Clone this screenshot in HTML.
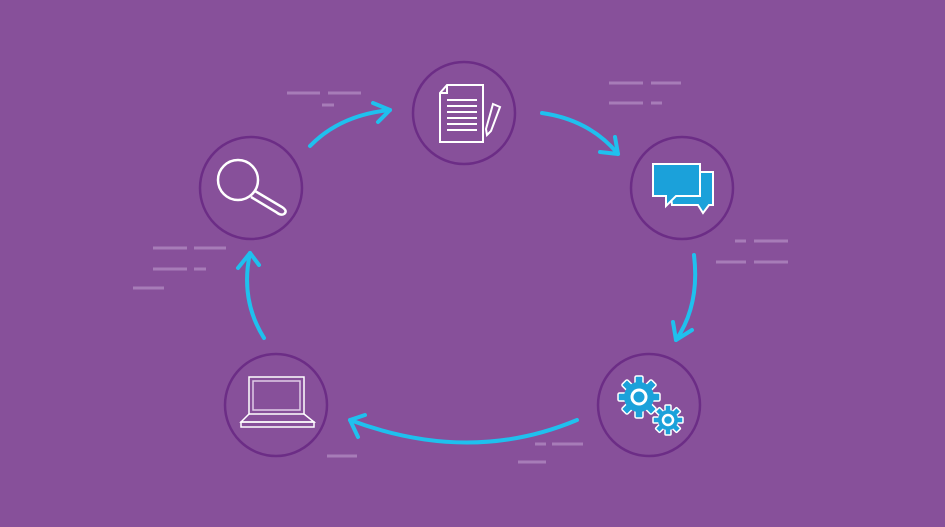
<!DOCTYPE html>
<html><head><style>html,body{margin:0;padding:0;background:#87509a;}svg{display:block}</style></head>
<body>
<svg width="945" height="527" viewBox="0 0 945 527" xmlns="http://www.w3.org/2000/svg">
<rect width="945" height="527" fill="#87509a"/>
<g stroke="#a77cb8" stroke-width="3">
<line x1="287" y1="93" x2="320" y2="93"/><line x1="328" y1="93" x2="361" y2="93"/><line x1="322" y1="105" x2="334" y2="105"/>
<line x1="609" y1="83" x2="643" y2="83"/><line x1="651" y1="83" x2="681" y2="83"/><line x1="609" y1="103" x2="643" y2="103"/><line x1="651" y1="103" x2="662" y2="103"/>
<line x1="735" y1="241" x2="746" y2="241"/><line x1="754" y1="241" x2="788" y2="241"/><line x1="716" y1="262" x2="746" y2="262"/><line x1="754" y1="262" x2="788" y2="262"/>
<line x1="153" y1="248" x2="187" y2="248"/><line x1="194" y1="248" x2="226" y2="248"/><line x1="153" y1="269" x2="187" y2="269"/><line x1="194" y1="269" x2="206" y2="269"/><line x1="133" y1="288" x2="164" y2="288"/>
<line x1="327" y1="456" x2="357" y2="456"/><line x1="535" y1="444" x2="546" y2="444"/><line x1="552" y1="444" x2="583" y2="444"/><line x1="518" y1="462" x2="546" y2="462"/>
</g>
<g fill="none" stroke="#6c2d86" stroke-width="2.5">
<circle cx="464" cy="113" r="51"/><circle cx="682" cy="188" r="51"/><circle cx="649" cy="405" r="51"/><circle cx="276" cy="405" r="51"/><circle cx="251" cy="188" r="51"/>
</g>
<g fill="none" stroke="#1fc0ee" stroke-width="4" stroke-linecap="round" stroke-linejoin="round">
<path d="M310 146 Q340 115 390 110"/><path d="M373 103 L390 110 L378 122"/>
<path d="M542 113 Q590 120 618 154"/><path d="M615 137 L618 154 L600 152"/>
<path d="M694 255 Q700 305 676 340"/><path d="M673 322 L676 340 L692 330"/>
<path d="M577 420 Q470 465 350 420"/><path d="M365 415 L350 420 L358 437"/>
<path d="M264 338 Q240 300 250 253"/><path d="M238 268 L250 253 L259 265"/>
</g>
<g fill="none" stroke="#fff" stroke-width="2">
<path d="M447 85 L483 85 L483 142 L440 142 L440 93 Z M440 93 L447 93 L447 85"/>
<line x1="447" y1="100" x2="477" y2="100"/><line x1="447" y1="106" x2="477" y2="106"/><line x1="447" y1="112" x2="477" y2="112"/><line x1="447" y1="118" x2="477" y2="118"/><line x1="447" y1="124" x2="477" y2="124"/><line x1="447" y1="130" x2="477" y2="130"/>
<path d="M493 104 L500 107 L491 131 L487 135 L486 129 Z"/>
</g>
<g stroke="#fff" stroke-width="2" fill="#1ba1da">
<path d="M668 172 L713 172 L713 205 L709 205 L703 213 L698 205 L672 205 Z"/>
<path d="M653 164 L700 164 L700 196 L676 196 L666 206 L666 196 L653 196 Z"/>
</g>
<!-- gears -->
<g fill="#1ba1da" stroke="#fff" stroke-width="1.5">
<g transform="translate(639,397)">
<rect x="-4" y="-21" width="8" height="42" rx="1.5"/><rect x="-4" y="-21" width="8" height="42" rx="1.5" transform="rotate(45)"/><rect x="-4" y="-21" width="8" height="42" rx="1.5" transform="rotate(90)"/><rect x="-4" y="-21" width="8" height="42" rx="1.5" transform="rotate(135)"/></g>
<circle cx="639" cy="397" r="15" stroke="none"/>
<g transform="translate(668,420)">
<rect x="-3" y="-15" width="6" height="30" rx="1"/><rect x="-3" y="-15" width="6" height="30" rx="1" transform="rotate(45)"/><rect x="-3" y="-15" width="6" height="30" rx="1" transform="rotate(90)"/><rect x="-3" y="-15" width="6" height="30" rx="1" transform="rotate(135)"/></g>
<circle cx="668" cy="420" r="10" stroke="none"/>
</g>
<circle cx="639" cy="397" r="7" fill="none" stroke="#fff" stroke-width="3"/>
<circle cx="668" cy="420" r="5" fill="none" stroke="#fff" stroke-width="2.5"/>
<g fill="none" stroke="#fff" stroke-width="1.5">
<rect x="249" y="377" width="55" height="37"/><rect x="253" y="381" width="47" height="29" stroke="#e0cce8"/>
<path d="M249 414 L241 422 L314 422 L304 414"/><rect x="241" y="422" width="73" height="5"/>
</g>
<g fill="none" stroke="#fff" stroke-width="2.5">
<circle cx="238" cy="180" r="20"/>
<path d="M255 191 L282 207 Q288 211 284 214 Q281 216 276 212 L251 197"/>
</g>
</svg>
</body></html>
